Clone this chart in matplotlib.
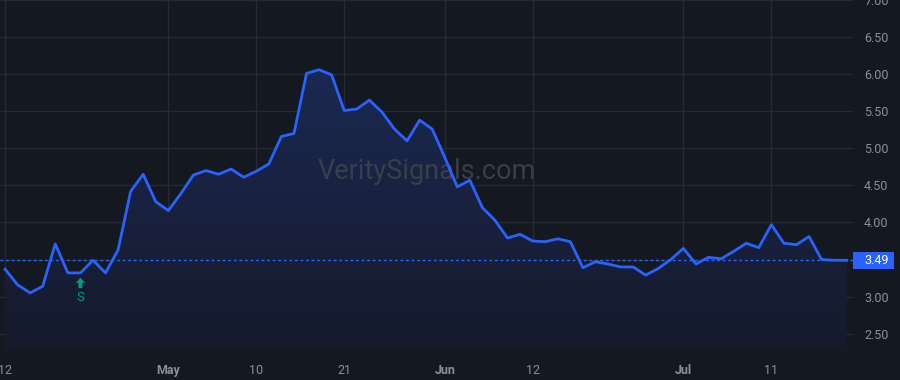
import matplotlib
import numpy as np

matplotlib.use("Agg")
from matplotlib import pyplot as plt
from matplotlib.colors import LinearSegmentedColormap
from matplotlib.patches import Rectangle
from matplotlib.transforms import blended_transform_factory

# daily closes, one per trading day (Apr 12 .. Jul 19)
prices = [
    3.37, 3.16, 3.05, 3.14, 3.71, 3.32, 3.32, 3.49, 3.32, 3.63,
    4.42, 4.65, 4.28, 4.16, 4.39, 4.64, 4.70, 4.65, 4.72, 4.61,
    4.69, 4.79, 5.16, 5.20, 6.01, 6.06, 5.99, 5.51, 5.53, 5.65,
    5.49, 5.26, 5.10, 5.38, 5.26, 4.88, 4.48, 4.57, 4.20, 4.03,
    3.79, 3.84, 3.75, 3.74, 3.78, 3.74, 3.39, 3.47, 3.44, 3.40,
    3.40, 3.29, 3.38, 3.50, 3.65, 3.44, 3.53, 3.51, 3.61, 3.72,
    3.66, 3.97, 3.72, 3.70, 3.81, 3.50, 3.49, 3.49,
]
last_price = 3.49

tick_days = [0, 13, 20, 27, 35, 42, 54, 61]
tick_labels = ["12", "May", "10", "21", "Jun", "12", "Jul", "11"]
month_labels = {"May", "Jun", "Jul"}

y_ticks = [2.5, 3.0, 3.5, 4.0, 4.5, 5.0, 5.5, 6.0, 6.5, 7.0]

signal_day = 6
signal_label = "S"

BG = "#141821"
GRID = "#262a35"
LINE = "#2962ff"
TEXT = "#8b8f9a"
GREEN = "#089981"
FONT = "Roboto"

plt.rcParams["font.family"] = FONT

days = np.arange(len(prices))

fig = plt.figure(figsize=(9, 3.8), dpi=100, facecolor=BG)
ax = fig.add_axes([0, 30 / 380, 853 / 900, 350 / 380], facecolor=BG)

y_low = 2.28
ax.set_xlim(-0.4, 67.5)
ax.set_ylim(y_low, 7.0)

# gradient area under the line
cmap = LinearSegmentedColormap.from_list("fade", ["#151a2b", "#1c2852"])
grad = np.linspace(0, 1, 256).reshape(-1, 1)
fill = ax.fill_between(days, prices, y_low, color="none", lw=0)
img = ax.imshow(grad, cmap=cmap, aspect="auto", origin="lower",
                extent=[days[0], days[-1], y_low, max(prices)], zorder=1)
img.set_clip_path(fill.get_paths()[0], transform=ax.transData)

ax.plot(days, prices, color=LINE, lw=2, zorder=3)
ax.axhline(last_price, color=LINE, lw=1, ls=(0, (2, 2)), zorder=2)

ax.set_xticks(tick_days)
ax.set_xticklabels(tick_labels)
for label in ax.get_xticklabels():
    if label.get_text() in month_labels:
        label.set_fontweight("bold")
ax.set_yticks(y_ticks)
# the 3.50 label sits under the last-price badge
ax.set_yticklabels(["" if v == 3.5 else f"{v:.2f}" for v in y_ticks])
ax.yaxis.tick_right()
ax.tick_params(axis="both", length=0, colors=TEXT, labelsize=9)
ax.tick_params(axis="x", pad=10)
ax.tick_params(axis="y", pad=8)
ax.grid(color=GRID, lw=1)
ax.set_axisbelow(True)
for spine in ax.spines.values():
    spine.set_visible(False)

# watermark
ax.text(0.5, 0.51, "VeritySignals.com", transform=ax.transAxes, ha="center",
        va="center", fontsize=19.5, color="#393e4b", zorder=2)

# signal marker below the bar
sig_y = prices[signal_day]
ax.annotate("", xy=(signal_day, sig_y), xycoords="data",
            xytext=(0, -11), textcoords="offset points",
            arrowprops=dict(arrowstyle="simple,head_length=0.36,head_width=0.65,tail_width=0.28",
                            color=GREEN, lw=0, shrinkA=0, shrinkB=3.5),
            zorder=4)
ax.annotate(signal_label, xy=(signal_day, sig_y), xycoords="data",
            xytext=(0, -18), textcoords="offset points", color=GREEN,
            ha="center", va="center", fontsize=9.5, zorder=4)

# last price badge on the axis
badge_tf = blended_transform_factory(fig.transFigure, ax.transData)
badge_h = 0.23
fig.patches.append(Rectangle((853 / 900, last_price - badge_h / 2), 41 / 900, badge_h,
                             transform=badge_tf, facecolor=LINE, edgecolor="none"))
fig.text(864 / 900, last_price, f"{last_price:.2f}", transform=badge_tf,
         ha="left", va="center", color="white", fontsize=9)

fig.savefig("out.png", dpi=100, facecolor=BG)
plt.close(fig)
